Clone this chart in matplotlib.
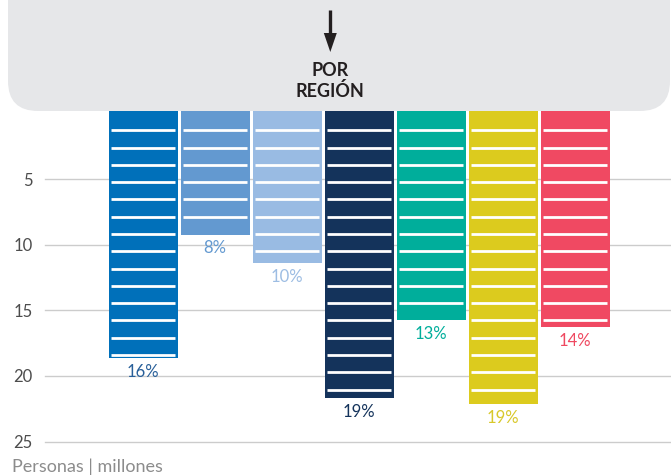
import numpy as np
import matplotlib
matplotlib.use('Agg')
import matplotlib.pyplot as plt
from matplotlib.patches import FancyBboxPatch, Polygon

plt.rcParams['font.family'] = ['Lato', 'DejaVu Sans']

# data (millions of people per region)
values = [18.65, 9.25, 11.4, 21.7, 15.75, 22.15, 16.3]
labels = ['16%', '8%', '10%', '19%', '13%', '19%', '14%']
bar_colors = ['#0070ba', '#6399d0', '#99bbe3', '#14335b', '#00ae9b', '#dccb1e', '#f04962']
label_colors = ['#285f99', '#6399d0', '#9dbde3', '#14335b', '#00ae9b', '#d8c82a', '#ef4860']
yticks = [5, 10, 15, 20, 25]

W, H = 671., 476.
fig = plt.figure(figsize=(W/100, H/100), dpi=100)

# overlay in pixel coords for the grey box and the arrow
bg = fig.add_axes([0, 0, 1, 1], zorder=0)
bg.set_xlim(0, W)
bg.set_ylim(H, 0)
bg.axis('off')
box = FancyBboxPatch((8, -60), 662, 171, boxstyle='round,pad=0,rounding_size=30',
                     facecolor='#e6e7e9', edgecolor='none')
bg.add_patch(box)
bg.plot([330.3, 330.3], [10, 36], color='#231f20', lw=2.4, solid_capstyle='butt')
bg.add_patch(Polygon([[323.8, 33], [336.8, 33], [330.3, 52]], closed=True,
                     facecolor='#231f20', edgecolor='none'))
bg.text(330.3, 71, 'POR', ha='center', va='center', fontsize=13, fontweight='bold', color='#231f20')
bg.text(330.3, 91, 'REGIÓN', ha='center', va='center', fontsize=13, fontweight='bold', color='#231f20')
bg.text(12, 467, 'Personas | millones', ha='left', va='center', fontsize=13, color='#8c8c8c')

# main chart
x0, x1 = 45., 671.
ytop, ybot = 113.5, 441.5
ax = fig.add_axes([x0/W, 1-ybot/H, (x1-x0)/W, (ybot-ytop)/H], zorder=1)
ax.patch.set_alpha(0)
step = 72.
ax.set_xlim((x0-143)/step, (x1-143)/step)
ax.set_ylim(25, 0)

x = np.arange(len(values))
ax.bar(x, np.array(values) + 0.2, width=69/step, color=bar_colors, zorder=2, bottom=-0.2,
       clip_on=False)

# white stripes inside the bars
inset = 2.5/step
for xi, v in zip(x, values):
    s = 1.28
    while s < v - 0.2:
        ax.plot([xi-0.48+inset, xi+0.48-inset], [s, s], color='white', lw=2.0, zorder=3,
                solid_capstyle='butt')
        s += 1.3176

for xi, v, lab, c in zip(x, values, labels, label_colors):
    ax.annotate(lab, (xi, v), xytext=(0, -4), textcoords='offset points',
                ha='center', va='top', fontsize=12, color=c)

ax.set_yticks(yticks)
ax.set_xticks([])
for t in yticks:
    ax.axhline(t, color='#cccccc', lw=1, zorder=1, clip_on=False)
ax.tick_params(axis='y', length=0, pad=9, labelsize=12, labelcolor='#4d4d4d')
for sp in ax.spines.values():
    sp.set_visible(False)

fig.savefig('out.png', dpi=100)
